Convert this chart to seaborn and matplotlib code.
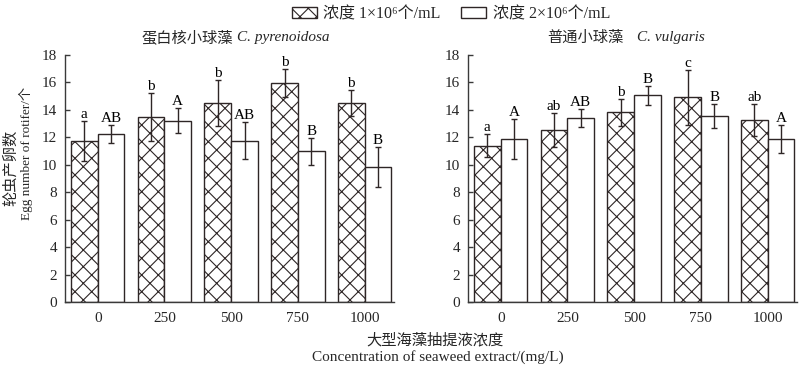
import matplotlib
matplotlib.use("Agg")
import matplotlib.pyplot as plt
from matplotlib.patches import Patch
from matplotlib.font_manager import FontProperties
import numpy as np
import pandas as pd
import seaborn as sns

# ---------------- data ----------------
concentrations = ["0", "250", "500", "750", "1000"]
density_labels = ["浓度 1×10⁶个/mL", "浓度 2×10⁶个/mL"]
y_ticks = [0, 2, 4, 6, 8, 10, 12, 14, 16, 18]

pyr_low_mean = [11.74, 13.48, 14.50, 15.97, 14.50]
pyr_low_sd = [1.46, 1.75, 1.70, 1.02, 0.97]
pyr_high_mean = [12.22, 13.22, 11.74, 10.97, 9.86]
pyr_high_sd = [0.65, 0.90, 1.35, 0.97, 1.45]
pyr_low_letters = ["a", "b", "b", "b", "b"]
pyr_high_letters = ["AB", "A", "AB", "B", "B"]

vul_low_mean = [11.38, 12.53, 13.81, 14.91, 13.27]
vul_low_sd = [0.83, 1.23, 1.00, 2.00, 1.18]
vul_high_mean = [11.87, 13.42, 15.06, 13.54, 11.87]
vul_high_sd = [1.47, 0.66, 0.68, 0.86, 1.02]
vul_low_letters = ["a", "ab", "b", "c", "ab"]
vul_high_letters = ["A", "AB", "B", "B", "A"]

title_cn = ["蛋白核小球藻", "普通小球藻"]
title_latin = ["C. pyrenoidosa", "C. vulgaris"]
ylabel_cn = "轮虫产卵数"
ylabel_en = "Egg number of rotifer/个"
xlabel_cn = "大型海藻抽提液浓度"
xlabel_en = "Concentration of seaweed extract/(mg/L)"

# ---------------- style ----------------
sns.set_style("ticks")
FAM = ["Liberation Serif", "Noto Sans CJK SC", "DejaVu Serif"]
plt.rcParams["font.family"] = FAM
EDGE = "#2e2626"
plt.rcParams["hatch.color"] = EDGE
plt.rcParams["hatch.linewidth"] = 0.8
FS = 11

fig = plt.figure(figsize=(8, 3.65), dpi=100)
W, H = 800, 365
ax_bottom = 1 - 302 / H
ax_height = 247 / H
ax1 = fig.add_axes([65 / W, ax_bottom, 329 / W, ax_height])
ax2 = fig.add_axes([468 / W, ax_bottom, 329 / W, ax_height])


def draw(ax, lm, ls, hm, hs, ll, hl):
    df = pd.DataFrame({
        "conc": concentrations * 2,
        "val": lm + hm,
        "dens": [density_labels[0]] * 5 + [density_labels[1]] * 5,
    })
    sns.barplot(data=df, x="conc", y="val", hue="dens", order=concentrations,
                hue_order=density_labels, palette=["white", "white"],
                saturation=1, edgecolor=EDGE, linewidth=1.0, errorbar=None,
                width=0.8, gap=0, ax=ax, legend=False)
    for cont, sds, letters, hatch in zip(ax.containers, [ls, hs], [ll, hl], ["xx", ""]):
        xs, hts = [], []
        for p in cont.patches:
            p.set_hatch(hatch)
            xs.append(p.get_x() + p.get_width() / 2)
            hts.append(p.get_height())
        ax.errorbar(xs, hts, yerr=sds, fmt="none", ecolor=EDGE, elinewidth=1.0,
                    capsize=2.3, capthick=1.0, zorder=5)
        for x, h, s, t in zip(xs, hts, sds, letters):
            ax.annotate(t, (x, h + s), xytext=(0, 0), textcoords="offset points",
                        ha="center", va="bottom", fontsize=FS, color="black")
    ax.set_xlim(-0.49, 4.44)
    ax.set_ylim(0, 18)
    ax.set_yticks(y_ticks)
    ax.set_xlabel("")
    ax.set_ylabel("")
    sns.despine(ax=ax)
    for sp in ["left", "bottom"]:
        ax.spines[sp].set_color("#3a3a3a")
        ax.spines[sp].set_linewidth(1.0)
    ax.tick_params(axis="y", direction="in", length=3.5, width=1.0, color="#3a3a3a",
                   pad=5.5, labelsize=FS)
    ax.tick_params(axis="x", length=0, pad=7.5, labelsize=FS)


draw(ax1, pyr_low_mean, pyr_low_sd, pyr_high_mean, pyr_high_sd, pyr_low_letters, pyr_high_letters)
draw(ax2, vul_low_mean, vul_low_sd, vul_high_mean, vul_high_sd, vul_low_letters, vul_high_letters)

# titles
ty = 1 - 38 / H
fig.text(233 / W, ty, title_cn[0], ha="right", va="center", fontsize=FS)
fig.text(237 / W, ty, title_latin[0], ha="left", va="center", fontsize=FS, style="italic")
fig.text(623 / W, ty, title_cn[1], ha="right", va="center", fontsize=FS)
fig.text(637 / W, ty, title_latin[1], ha="left", va="center", fontsize=FS, style="italic")

# y label (two lines)
fig.text(11 / W, 1 - 168 / H, ylabel_cn, rotation=90, ha="center", va="center", fontsize=FS)
fig.text(26 / W, 1 - 153 / H, ylabel_en, rotation=90, ha="center", va="center", fontsize=9.5)

# x label (two lines)
fig.text(435 / W, 1 - 340 / H, xlabel_cn, ha="center", va="center", fontsize=FS)
fig.text(438 / W, 1 - 357 / H, xlabel_en, ha="center", va="center", fontsize=FS)

# legend
handles = [Patch(facecolor="white", edgecolor=EDGE, hatch="xx", linewidth=1.0),
           Patch(facecolor="white", edgecolor=EDGE, linewidth=1.0)]
fig.legend(handles=handles, labels=density_labels, ncol=2, loc="upper center",
           bbox_to_anchor=(451 / W, 1.005), frameon=False,
           prop=FontProperties(family=FAM, size=11.5),
           handlelength=1.55, handleheight=0.75, handletextpad=0.4,
           columnspacing=1.3, borderaxespad=0.1)

fig.savefig("out.png", dpi=100)
